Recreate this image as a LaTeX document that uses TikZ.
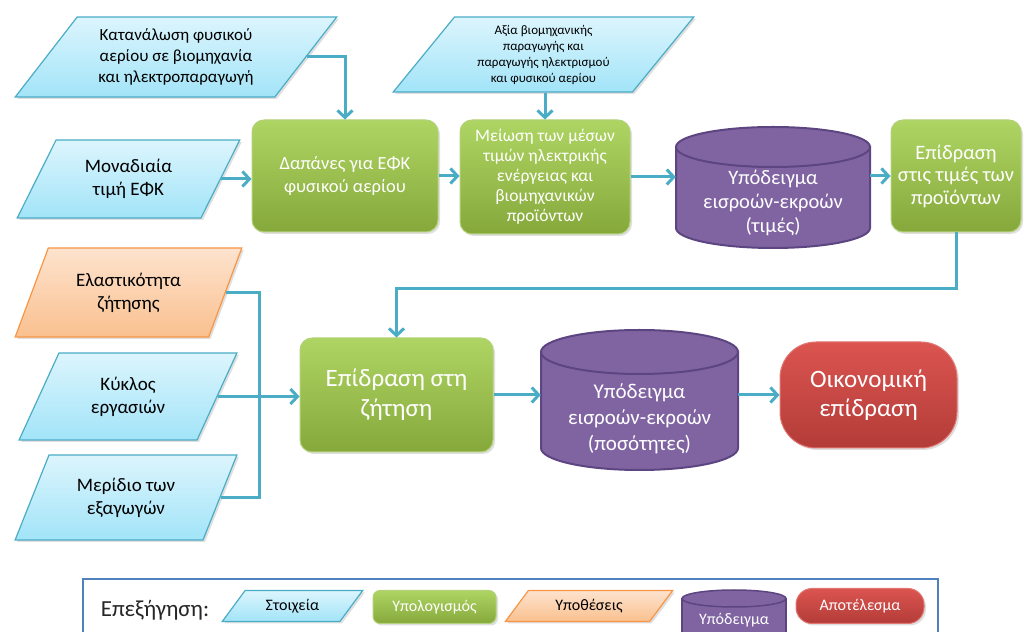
\documentclass[tikz,border=0pt]{standalone}
\usepackage{fontspec}
\setmainfont{Carlito}
\usepackage{tikz}
\usetikzlibrary{shapes.geometric, arrows.meta, shadows}

\definecolor{linkblue}{HTML}{4BACC6}
\definecolor{datatop}{HTML}{DCF5FD}
\definecolor{databot}{HTML}{A2E4F8}
\definecolor{assumeedge}{HTML}{F79646}
\definecolor{assumetop}{HTML}{FDE3CE}
\definecolor{assumebot}{HTML}{FAC08F}
\definecolor{calcedge}{HTML}{B3D17A}
\definecolor{calctop}{HTML}{AED563}
\definecolor{calcbot}{HTML}{86A83B}
\definecolor{modelfill}{HTML}{8064A2}
\definecolor{modeledge}{HTML}{5C4580}
\definecolor{resulttop}{HTML}{DB5450}
\definecolor{resultbot}{HTML}{B33C38}
\definecolor{legendedge}{HTML}{4F81BD}

\begin{document}
\begin{tikzpicture}[x=1pt, y=1pt,
    data/.style={trapezium, trapezium left angle=62, trapezium right angle=118,
      trapezium stretches=true, draw=linkblue, line width=1.2pt,
      top color=datatop, bottom color=databot, text=black, align=center,
      inner sep=1pt, drop shadow={opacity=0.25, shadow xshift=2pt, shadow yshift=-2pt}},
    assume/.style={data, draw=assumeedge, top color=assumetop, bottom color=assumebot},
    calc/.style={rectangle, rounded corners=12pt, draw=calcedge, line width=1pt,
      top color=calctop, bottom color=calcbot, text=white, align=center,
      drop shadow={opacity=0.25, shadow xshift=2pt, shadow yshift=-2pt}},
    result/.style={rectangle, rounded corners=36pt, draw=resulttop!80!white, line width=1pt,
      top color=resulttop, bottom color=resultbot, text=white, align=center,
      drop shadow={opacity=0.25, shadow xshift=2pt, shadow yshift=-2pt}},
    cyl/.style={fill=modelfill, draw=modeledge, line width=2pt},
    cyltext/.style={text=white, align=center, inner sep=0pt},
    conn/.style={draw=linkblue, line width=3pt, -{Straight Barb[length=7pt, width=15pt]}},
    link/.style={draw=linkblue, line width=3pt}
  ]

  \clip (0,0) rectangle (1024,631);

  % inputs
  \node[data, minimum width=322pt, minimum height=80pt, trapezium left angle=50,
    trapezium right angle=130, font=\fontsize{17}{21}\selectfont] (p1) at (176,574)
    {Κατανάλωση φυσικού\\αερίου σε βιομηχανία\\και ηλεκτροπαραγωγή};
  \node[data, minimum width=223pt, minimum height=78pt, trapezium left angle=60,
    trapezium right angle=120, font=\fontsize{19}{23}\selectfont] (p2) at (128.5,452)
    {Μοναδιαία\\τιμή ΕΦΚ};
  \node[data, minimum width=301pt, minimum height=75pt, trapezium left angle=53,
    trapezium right angle=127, font=\fontsize{13}{16}\selectfont] (p3) at (543.5,576.5)
    {Αξία βιομηχανικής\\παραγωγής και\\παραγωγής ηλεκτρισμού\\και φυσικού αερίου};
  \node[assume, minimum width=227pt, minimum height=89pt,
    font=\fontsize{19}{23}\selectfont] (p4) at (128.5,338.5)
    {Ελαστικότητα\\ζήτησης};
  \node[data, minimum width=218pt, minimum height=87pt,
    font=\fontsize{19}{23}\selectfont] (p5) at (128,234.5)
    {Κύκλος\\εργασιών};
  \node[data, minimum width=222pt, minimum height=85pt,
    font=\fontsize{19}{23}\selectfont] (p6) at (126,133.5)
    {Μερίδιο των\\εξαγωγών};

  % calculations
  \node[calc, minimum width=186pt, minimum height=112pt,
    font=\fontsize{18.5}{23}\selectfont] (g1) at (345,455)
    {Δαπάνες για ΕΦΚ\\φυσικού αερίου};
  \node[calc, minimum width=170pt, minimum height=114pt,
    font=\fontsize{17.5}{20}\selectfont] (g2) at (545,454)
    {Μείωση των μέσων\\τιμών ηλεκτρικής\\ενέργειας και\\βιομηχανικών\\προϊόντων};
  \node[calc, minimum width=130pt, minimum height=112pt,
    font=\fontsize{20.5}{22.5}\selectfont] (g3) at (956,455)
    {Επίδραση\\στις τιμές των\\προϊόντων};
  \node[calc, minimum width=193pt, minimum height=114pt,
    font=\fontsize{25}{30}\selectfont] (g4) at (396.5,236)
    {Επίδραση στη\\ζήτηση};

  % models
  \filldraw[cyl] (676,484) -- (676,403) arc [start angle=180, end angle=360,
    x radius=97, y radius=20] -- (870,484) -- cycle;
  \filldraw[cyl] (773,484) ellipse [x radius=97, y radius=20];
  \node[cyltext, minimum width=194pt, font=\fontsize{20.5}{24}\selectfont] (c1) at (773,428)
    {Υπόδειγμα\\εισροών-εκροών\\(τιμές)};

  \filldraw[cyl] (541,279) -- (541,183) arc [start angle=180, end angle=360,
    x radius=98.5, y radius=22] -- (738,279) -- cycle;
  \filldraw[cyl] (639.5,279) ellipse [x radius=98.5, y radius=22];
  \node[cyltext, minimum width=197pt, font=\fontsize{21}{26}\selectfont] (c2) at (639.5,212)
    {Υπόδειγμα\\εισροών-εκροών\\(ποσότητες)};

  \node[result, minimum width=177pt, minimum height=106pt,
    font=\fontsize{25}{29}\selectfont] (r1) at (868.5,236)
    {Οικονομική\\επίδραση};

  % connectors
  \draw[conn] (p1.right side) -| (g1.north);
  \draw[conn] (p2.right side) -- (p2.right side -| g1.west);
  \draw[conn] (g1.east) -- (g1.east -| g2.west);
  \draw[conn] (g2.north |- p3.south) -- (g2.north);
  \draw[conn] (g2.east) -- (g2.east -| c1.west);
  \draw[conn] (c1.east |- g3.west) -- (g3.west);
  \draw[conn] (g3.south) -- ++(0,-56) -| (g4.north);
  \coordinate (bus) at ([xshift=42pt]p5.right side);
  \draw[link] (p4.right side) -| (bus);
  \draw[link] (p6.right side) -| (bus);
  \draw[conn] (p5.right side) -- (p5.right side -| g4.west);
  \draw[conn] (g4.east) -- (g4.east -| c2.west);
  \draw[conn] (c2.east |- r1.west) -- (r1.west);

  % legend
  \draw[draw=legendedge, line width=2pt] (83,-10) |- (938,52) -- (938,-10);
  \node[text=black!85, font=\fontsize{23}{26}\selectfont] (lgtitle) at (155,21) {Επεξήγηση:};
  \node[data, minimum width=141pt, minimum height=31pt, trapezium left angle=50,
    trapezium right angle=130, font=\fontsize{16}{18}\selectfont] (lg1) at (292.5,25)
    {Στοιχεία};
  \node[calc, minimum width=123pt, minimum height=33pt, rounded corners=7pt,
    font=\fontsize{16}{18}\selectfont] (lg2) at (434.5,24)
    {Υπολογισμός};
  \node[assume, minimum width=168pt, minimum height=31pt, trapezium left angle=50,
    trapezium right angle=130, font=\fontsize{16}{18}\selectfont] (lg3) at (589,25)
    {Υποθέσεις};
  \filldraw[cyl, line width=1.5pt] (682,32.5) -- (682,-15) -- (786,-15) -- (786,32.5) -- cycle;
  \filldraw[cyl, line width=1.5pt] (734,32.5) ellipse [x radius=52, y radius=8.5];
  \node[cyltext, font=\fontsize{16}{18}\selectfont] (lg4) at (734,11) {Υπόδειγμα};
  \node[result, minimum width=128pt, minimum height=35pt, rounded corners=16pt,
    font=\fontsize{16}{18}\selectfont] (lg5) at (860,25)
    {Αποτέλεσμα};
\end{tikzpicture}
\end{document}
